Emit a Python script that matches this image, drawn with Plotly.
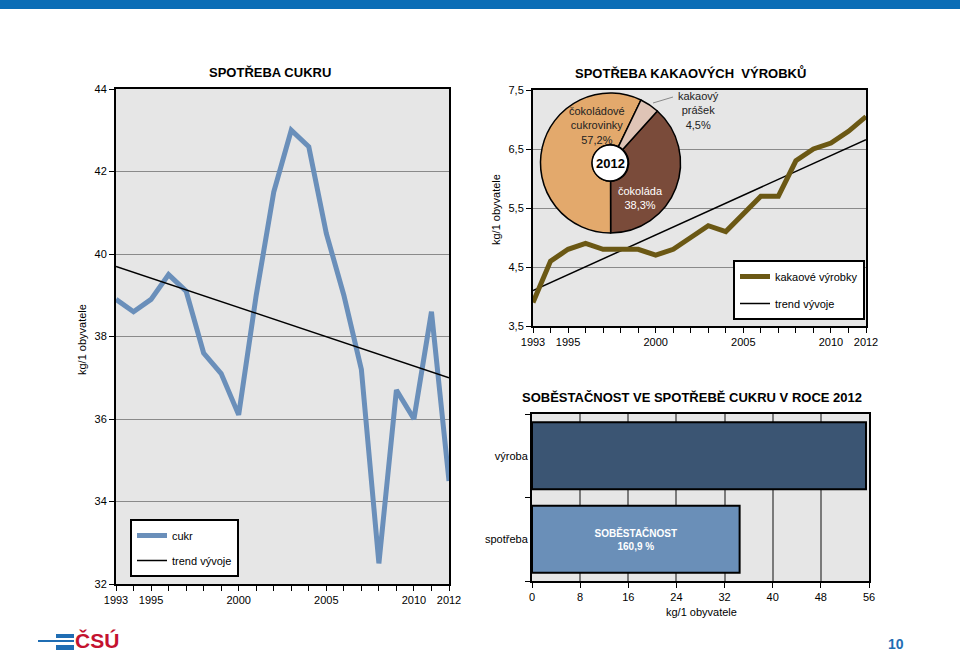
import plotly.graph_objects as go

W, H = 960, 653

# ---------------- data ----------------
years = list(range(1993, 2013))
sugar = [38.9, 38.6, 38.9, 39.5, 39.1, 37.6, 37.1, 36.1, 39.0, 41.5,
         43.0, 42.6, 40.5, 39.0, 37.2, 32.5, 36.7, 36.0, 38.6, 34.5]
trend_years = [1993, 2012]
sugar_trend = [39.7, 37.0]

cocoa = [3.9, 4.6, 4.8, 4.9, 4.8, 4.8, 4.8, 4.7, 4.8, 5.0,
         5.2, 5.1, 5.4, 5.7, 5.7, 6.3, 6.5, 6.6, 6.8, 7.05]
cocoa_trend = [4.1, 6.66]

pie_labels = ["čokoláda", "čokoládové<br>cukrovinky", "kakaový<br>prášek"]
pie_values = [38.3, 57.2, 4.5]
pie_colors = ["#7a4b3a", "#e3a96c", "#dfc4b6"]

bar_cats = ["výroba", "spotřeba"]
bar_values = [55.5, 34.5]
self_sufficiency = "160,9"

year_ticks = [1993, 1995, 2000, 2005, 2010, 2012]

FONT = "Liberation Sans, Arial, sans-serif"


def px(x):
    return x / W


def py(y):
    return 1 - y / H


fig = go.Figure()

# ---------------- left: sugar ----------------
fig.add_trace(go.Scatter(x=years, y=sugar, mode="lines", name="cukr",
                         line=dict(color="#6a8fba", width=5),
                         xaxis="x", yaxis="y", legend="legend", legendgroup="a"))
fig.add_trace(go.Scatter(x=trend_years, y=sugar_trend, mode="lines", name="trend vývoje",
                         line=dict(color="black", width=1.5),
                         xaxis="x", yaxis="y", legend="legend", legendgroup="b"))

# ---------------- top right: cocoa ----------------
fig.add_trace(go.Scatter(x=trend_years, y=cocoa_trend, mode="lines", name="trend vývoje",
                         line=dict(color="black", width=1.5), showlegend=False,
                         xaxis="x2", yaxis="y2"))
fig.add_trace(go.Scatter(x=years, y=cocoa, mode="lines", name="kakaové výrobky",
                         line=dict(color="#6b5814", width=5),
                         xaxis="x2", yaxis="y2", legend="legend2", legendgroup="c"))
fig.add_trace(go.Scatter(x=[None], y=[None], mode="lines", name="trend vývoje",
                         line=dict(color="black", width=1.5),
                         xaxis="x2", yaxis="y2", legend="legend2", legendgroup="d"))

# pie
fig.add_trace(go.Pie(labels=pie_labels, values=pie_values, sort=False,
                     direction="clockwise", rotation=42, hole=0.26,
                     marker=dict(colors=pie_colors, line=dict(color="black", width=1.5)),
                     textinfo="none", hoverinfo="label+percent", showlegend=False,
                     domain=dict(x=[px(539), px(682)], y=[py(233), py(93)])))

# ---------------- bottom right: bars ----------------
fig.add_trace(go.Bar(x=bar_values, y=bar_cats, orientation="h", width=0.8,
                     marker=dict(color=["#3b5573", "#6a8fb8"], line=dict(color="black", width=2)),
                     text=["", "SOBĚSTAČNOST<br>" + self_sufficiency + " %"],
                     textposition="inside", insidetextanchor="middle",
                     textfont=dict(color="white", size=10, family=FONT, weight="bold"),
                     showlegend=False, xaxis="x3", yaxis="y3"))

tickfont = dict(family=FONT, size=11, color="black")

common_x = dict(range=[1993, 2012], tickvals=year_ticks, ticks="outside", ticklen=5,
                tickcolor="black", showline=True, linecolor="black", linewidth=2,
                mirror=True, showgrid=False, zeroline=False, tickfont=tickfont,
                automargin=False,
                minor=dict(dtick=1, tick0=1993, ticks="outside", ticklen=5, tickcolor="black"))

fig.update_layout(
    template="none",
    width=W, height=H, margin=dict(l=0, r=0, t=0, b=0, pad=0, autoexpand=False),
    autosize=False,
    paper_bgcolor="white", plot_bgcolor="#e6e6e6",
    separators=", ",
    font=dict(family=FONT, size=11, color="black"),
    xaxis=dict(domain=[px(116), px(449)], anchor="y", **common_x),
    yaxis=dict(domain=[py(584), py(89)], anchor="x", range=[32, 44], dtick=2,
               ticks="outside", ticklen=5, tickcolor="black", showline=True,
               linecolor="black", linewidth=2, mirror=True, gridcolor="#8a8a8a",
               gridwidth=1, zeroline=False, tickfont=tickfont, automargin=False),
    xaxis2=dict(domain=[px(533), px(866)], anchor="y2", **common_x),
    yaxis2=dict(domain=[py(326), py(90)], anchor="x2", range=[3.5, 7.5], tick0=3.5, dtick=1,
                ticks="outside", ticklen=5, tickcolor="black", showline=True,
                linecolor="black", linewidth=2, mirror=True, gridcolor="#8a8a8a",
                gridwidth=1, zeroline=False, tickfont=tickfont, tickformat=".1f",
                automargin=False),
    xaxis3=dict(domain=[px(532), px(869)], anchor="y3", range=[0, 56], dtick=8,
                ticks="outside", ticklen=5, tickcolor="black", showline=True,
                linecolor="black", linewidth=2, mirror=True, gridcolor="#7a7a7a",
                gridwidth=1.5, zeroline=False, tickfont=tickfont, automargin=False),
    yaxis3=dict(domain=[py(581), py(414)], anchor="x3", categoryorder="array",
                categoryarray=["spotřeba", "výroba"], tickson="boundaries",
                ticks="outside", ticklen=5, tickcolor="black", showline=True,
                linecolor="black", linewidth=2, mirror=True, showgrid=False,
                tickfont=tickfont, automargin=False),
    legend=dict(x=px(130), y=py(519), xanchor="left", yanchor="top",
                bgcolor="white", bordercolor="black", borderwidth=2,
                font=dict(family=FONT, size=11, color="black"),
                itemwidth=30, tracegroupgap=6),
    legend2=dict(x=px(733), y=py(260), xanchor="left", yanchor="top",
                 bgcolor="white", bordercolor="black", borderwidth=2,
                 font=dict(family=FONT, size=11, color="black"),
                 itemwidth=30, tracegroupgap=8),
)

ann = []
ann.append(dict(text="<b>SPOTŘEBA CUKRU</b>", x=px(270), y=py(72), font=dict(size=13)))
ann.append(dict(text="<b>SPOTŘEBA KAKAOVÝCH  VÝROBKŮ</b>", x=px(690), y=py(73), font=dict(size=13)))
ann.append(dict(text="<b>SOBĚSTAČNOST VE SPOTŘEBĚ CUKRU V ROCE 2012</b>", x=px(692), y=py(397), font=dict(size=13)))
ann.append(dict(text="kg/1 obyvatele", x=px(82), y=py(340), textangle=-90, font=dict(size=11)))
ann.append(dict(text="kg/1 obyvatele", x=px(496), y=py(210), textangle=-90, font=dict(size=11)))
ann.append(dict(text="kg/1 obyvatele", x=px(701), y=py(612), font=dict(size=11)))
# pie labels
ann.append(dict(text=pie_labels[1] + "<br>" + f"{pie_values[1]:.1f}".replace(".", ",") + "%",
                x=px(597), y=py(126), font=dict(size=11, color="#222")))
ann.append(dict(text=pie_labels[0] + "<br>" + f"{pie_values[0]:.1f}".replace(".", ",") + "%",
                x=px(640), y=py(198), font=dict(size=11, color="white")))
ann.append(dict(text=pie_labels[2] + "<br>" + f"{pie_values[2]:.1f}".replace(".", ",") + "%",
                x=px(698), y=py(111), font=dict(size=11, color="#222")))
ann.append(dict(text="<b>2012</b>", x=px(610), y=py(163), font=dict(size=13)))
# footer
ann.append(dict(text="<b>ČSÚ</b>", x=px(97), y=py(640), font=dict(size=21, color="#c4122f")))
ann.append(dict(text="<b>10</b>", x=px(896), y=py(644), font=dict(size=14, color="#1f6db3")))

for a in ann:
    a.setdefault("xref", "paper")
    a.setdefault("yref", "paper")
    a.setdefault("showarrow", False)
    a.setdefault("xanchor", "center")
    a.setdefault("yanchor", "middle")
    a["font"] = dict(family=FONT, **a["font"])
fig.update_layout(annotations=ann)

shapes = [
    # header band
    dict(type="rect", xref="paper", yref="paper", x0=0, x1=1, y0=py(9), y1=1,
         fillcolor="#0b6db6", line=dict(width=0)),
    # pie center
    dict(type="circle", xref="paper", yref="paper", x0=px(592), x1=px(628),
         y0=py(181), y1=py(145), fillcolor="white", line=dict(color="black", width=1.5),
         layer="above"),
    # leader line
    dict(type="line", xref="paper", yref="paper", x0=px(653), y0=py(103),
         x1=px(673), y1=py(97), line=dict(color="#888", width=1)),
    # logo stripes
    dict(type="rect", xref="paper", yref="paper", x0=px(38), x1=px(74), y0=py(642), y1=py(640),
         fillcolor="#1f6db3", line=dict(width=0)),
    dict(type="rect", xref="paper", yref="paper", x0=px(56), x1=px(74), y0=py(638), y1=py(634),
         fillcolor="#1f6db3", line=dict(width=0)),
    dict(type="rect", xref="paper", yref="paper", x0=px(56), x1=px(74), y0=py(650), y1=py(645),
         fillcolor="#1f6db3", line=dict(width=0)),
]
fig.update_layout(shapes=shapes)

fig.write_html("out.html", config={"displayModeBar": False},
               post_script="document.body.style.margin='0';document.body.style.overflow='hidden';")
